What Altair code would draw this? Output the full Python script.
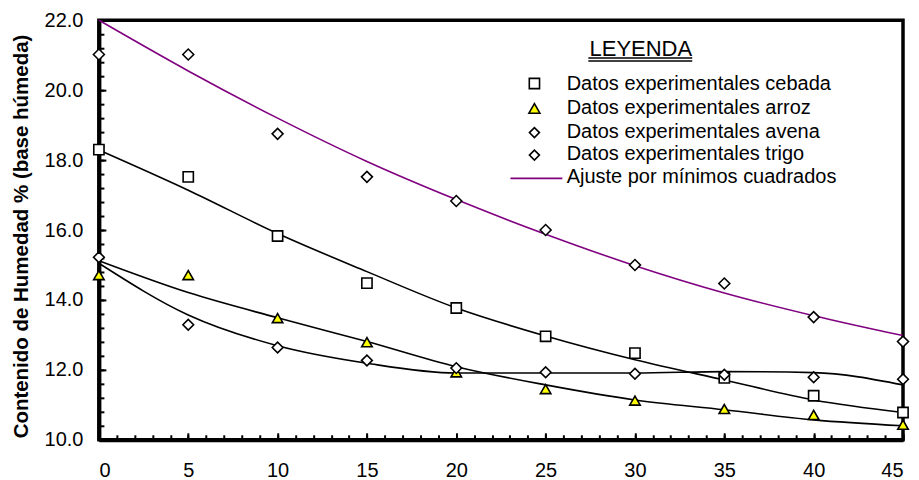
import altair as alt
import pandas as pd

# ---------------- data ----------------
tiempo = [0, 5, 10, 15, 20, 25, 30, 35, 40, 45]
series = ["cebada", "arroz", "avena", "trigo"]

cebada = [18.30, 17.52, 15.83, 14.48, 13.77, 12.96, 12.48, 11.77, 11.26, 10.78]
arroz = [14.71, 14.71, 13.48, 12.79, 11.93, 11.45, 11.12, 10.88, 10.71, 10.43]
avena = [15.22, 13.29, 12.64, 12.27, 12.05, 11.93, 11.89, 11.86, 11.79, 11.73]
trigo = [21.02, 21.02, 18.75, 17.52, 16.83, 16.00, 15.00, 14.47, 13.51, 12.81]

cebada_ajuste = [18.29, 17.14, 15.90, 14.81, 13.77, 12.97, 12.29, 11.71, 11.14, 10.78]
arroz_ajuste = [15.12, 14.21, 13.49, 12.81, 12.09, 11.57, 11.14, 10.86, 10.57, 10.40]
avena_ajuste = [15.05, 13.57, 12.69, 12.19, 11.91, 11.91, 11.91, 11.95, 11.92, 11.57]
trigo_ajuste = [22.00, 20.55, 19.20, 17.96, 16.87, 15.88, 14.98, 14.20, 13.55, 12.98]

x_ticks = [0, 5, 10, 15, 20, 25, 30, 35, 40, 45]
x_minor = list(range(0, 46))
y_ticks = [10, 12, 14, 16, 18, 20, 22]
y_minor = [round(10 + 0.4 * i, 1) for i in range(31)]

y_title = "Contenido de Humedad % (base húmeda)"
legend_title = "LEYENDA"
legend_labels = [
    "Datos experimentales cebada",
    "Datos experimentales arroz",
    "Datos experimentales avena",
    "Datos experimentales trigo",
    "Ajuste por mínimos cuadrados",
]

# ---------------- tables ----------------
exp = {"cebada": cebada, "arroz": arroz, "avena": avena, "trigo": trigo}
fit = {"cebada": cebada_ajuste, "arroz": arroz_ajuste, "avena": avena_ajuste, "trigo": trigo_ajuste}
pts_df = pd.DataFrame([{"t": t, "h": v, "serie": s} for s in series for t, v in zip(tiempo, exp[s])])
fit_df = pd.DataFrame([{"t": t, "h": v, "serie": s} for s in series for t, v in zip(tiempo, fit[s])])

# ---------------- styling ----------------
FONT = "Liberation Sans"
W, H = 805, 420
PURPLE = "#800080"
shapes = ["square", "triangle-up", "diamond", "diamond"]
fills = ["white", "#FFFF00", "white", "white"]
sizes = [105, 120, 100, 100]

xs = alt.Scale(domain=[0, 45], nice=False, zero=False)
ys = alt.Scale(domain=[10, 22], nice=False, zero=False)

main_x = alt.Axis(orient="bottom", values=x_ticks, ticks=False, tickSize=0, domain=True,
                  domainColor="black", domainWidth=4, labelFont=FONT, labelFontSize=20,
                  labelColor="black", labelPadding=21, title=None, grid=False)
main_y = alt.Axis(orient="left", values=y_ticks, format=".1f", ticks=False, tickSize=0,
                  domain=True, domainColor="black", domainWidth=4, labelFont=FONT,
                  labelFontSize=20, labelColor="black", labelPadding=16, grid=False,
                  title=y_title, titleFont=FONT, titleFontSize=20.5, titleFontWeight="bold",
                  titleColor="black", titleX=-77, titleY=216, titleAngle=270,
                  titleAlign="center", titleBaseline="middle")

major_x = alt.Axis(orient="bottom", values=x_ticks, offset=-7, tickSize=7, tickWidth=2,
                   tickColor="black", domain=False, labels=False, title=None, grid=False)
major_y = alt.Axis(orient="left", values=y_ticks, offset=-7, tickSize=7, tickWidth=2,
                   tickColor="black", domain=False, labels=False, title=None, grid=False)
minor_x = alt.Axis(orient="bottom", values=x_minor, offset=-5, tickSize=5, tickWidth=2,
                   tickColor="black", domain=False, labels=False, title=None, grid=False)
minor_y = alt.Axis(orient="left", values=y_minor, offset=-5, tickSize=5, tickWidth=2,
                   tickColor="black", domain=False, labels=False, title=None, grid=False)

lines = alt.Chart(fit_df).mark_line(interpolate="monotone", strokeWidth=1.6, clip=False).encode(
    x=alt.X("t:Q", scale=xs, axis=main_x),
    y=alt.Y("h:Q", scale=ys, axis=main_y),
    stroke=alt.Stroke("serie:N", scale=alt.Scale(domain=series, range=["black", "black", "black", PURPLE]),
                      legend=None),
)

minor_layer = alt.Chart(pts_df).mark_point(opacity=0).encode(
    x=alt.X("t:Q", scale=xs, axis=minor_x),
    y=alt.Y("h:Q", scale=ys, axis=minor_y),
)

points = alt.Chart(pts_df).mark_point(filled=True, stroke="black", strokeWidth=1.6, opacity=1,
                                      clip=False).encode(
    x=alt.X("t:Q", scale=xs, axis=major_x),
    y=alt.Y("h:Q", scale=ys, axis=major_y),
    shape=alt.Shape("serie:N", scale=alt.Scale(domain=series, range=shapes), legend=None),
    fill=alt.Fill("serie:N", scale=alt.Scale(domain=series, range=fills), legend=None),
    size=alt.Size("serie:N", scale=alt.Scale(domain=series, range=sizes), legend=None),
)

one = alt.Data(values=[{}])
legend_layers = [
    alt.Chart(one).mark_text(text=legend_title, font=FONT, fontSize=22, color="black",
                             align="center", baseline="alphabetic").encode(
        x=alt.value(542.5), y=alt.value(36)),
    alt.Chart(one).mark_rule(color="black", strokeWidth=1.3).encode(
        x=alt.value(490), x2=alt.value(594), y=alt.value(37.8)),
    alt.Chart(one).mark_rule(color="black", strokeWidth=1.3).encode(
        x=alt.value(490), x2=alt.value(594), y=alt.value(40.8)),
    alt.Chart(one).mark_rule(color=PURPLE, strokeWidth=1.6).encode(
        x=alt.value(412), x2=alt.value(464), y=alt.value(158.3)),
]
sym_y = [63.3, 88.3, 112.5, 135]
txt_y = [70, 93.5, 117.7, 140, 163.3]
for i in range(4):
    legend_layers.append(
        alt.Chart(one).mark_point(shape=shapes[i], filled=True, fill=fills[i], stroke="black",
                                  strokeWidth=1.6, size=sizes[i], opacity=1).encode(
            x=alt.value(436), y=alt.value(sym_y[i])))
for i, lab in enumerate(legend_labels):
    legend_layers.append(
        alt.Chart(one).mark_text(text=lab, font=FONT, fontSize=20, color="black",
                                 align="left", baseline="alphabetic").encode(
            x=alt.value(468.3), y=alt.value(txt_y[i])))

chart = alt.layer(lines, minor_layer, points, *legend_layers).resolve_axis(
    x="independent", y="independent"
).properties(
    width=W, height=H,
    autosize=alt.AutoSizeParams(type="none"),
    padding={"left": 91, "top": 12, "right": 8, "bottom": 40},
    background="white",
).configure_view(stroke="black", strokeWidth=3.5)

chart.save("out.html", embed_options={"renderer": "svg", "actions": False})
